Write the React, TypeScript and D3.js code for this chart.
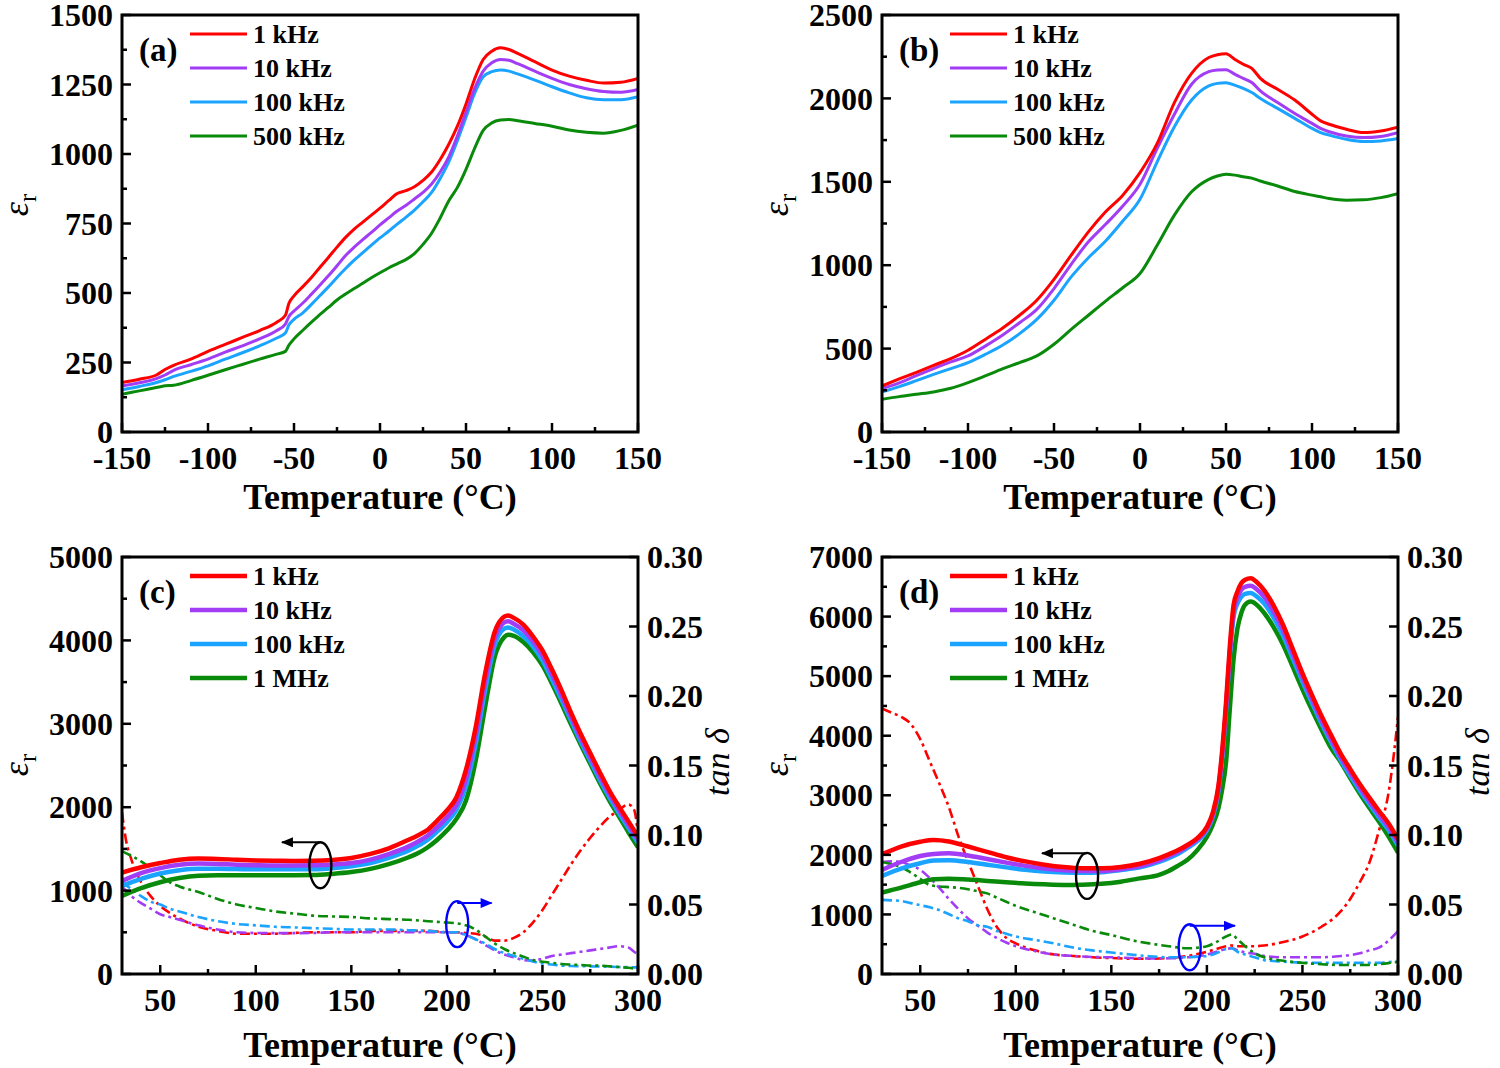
import React from "react";
import * as d3 from "d3";

const FONT = "'Liberation Serif', 'Times New Roman', Times, serif";
const RED = "#ff0000";
const PURPLE = "#a23cf5";
const BLUE = "#1aa3ff";
const GREEN = "#0a8a0a";

// ---------- panel (a) ----------
const tempA = [-150, -140, -130, -125, -120, -110, -100, -90, -80, -70, -60, -55, -53, -50, -45, -40, -35, -30, -25, -20, -15, -10, -5, 0, 5, 10, 15, 20, 25, 30, 35, 40, 45, 50, 55, 60, 65, 70, 75, 80, 90, 100, 110, 120, 130, 140, 150];
const epsA1k = [178, 190, 205, 225, 240, 262, 290, 315, 340, 365, 395, 420, 462, 490, 522, 555, 592, 628, 665, 700, 730, 755, 780, 805, 832, 858, 868, 882, 905, 935, 980, 1035, 1100, 1180, 1270, 1340, 1370, 1382, 1376, 1362, 1332, 1302, 1280, 1265, 1255, 1258, 1272];
const epsA10k = [165, 177, 192, 205, 222, 242, 262, 287, 310, 335, 365, 388, 415, 435, 463, 495, 528, 562, 598, 635, 665, 692, 718, 745, 770, 795, 815, 838, 862, 892, 935, 990, 1065, 1150, 1235, 1298, 1328, 1340, 1337, 1325, 1298, 1272, 1250, 1235, 1225, 1222, 1232];
const epsA100k = [152, 164, 178, 188, 200, 218, 238, 262, 285, 310, 338, 356, 385, 405, 428, 458, 490, 522, 556, 588, 618, 645, 672, 698, 722, 748, 772, 798, 828, 862, 912, 972, 1048, 1132, 1218, 1278, 1296, 1302, 1298, 1288, 1266, 1242, 1220, 1202, 1195, 1195, 1206];
const epsA500k = [136, 148, 160, 166, 168, 185, 204, 224, 243, 262, 280, 290, 312, 335, 365, 394, 422, 448, 475, 496, 516, 535, 555, 573, 590, 605, 620, 642, 675, 715, 770, 832, 880, 945, 1020, 1085, 1112, 1122, 1124, 1120, 1110, 1100, 1086, 1078, 1075, 1085, 1104];

// ---------- panel (b) ----------
const tempB = [-150, -140, -130, -120, -110, -100, -90, -80, -70, -60, -50, -40, -30, -20, -10, 0, 10, 20, 30, 40, 45, 50, 55, 60, 65, 70, 80, 90, 100, 105, 110, 120, 130, 140, 150];
const epsB1k = [276, 318, 358, 400, 440, 490, 555, 622, 700, 790, 915, 1060, 1200, 1320, 1420, 1555, 1730, 1975, 2150, 2245, 2262, 2268, 2235, 2205, 2180, 2120, 2055, 1990, 1905, 1865, 1845, 1815, 1795, 1805, 1828];
const epsB10k = [260, 295, 338, 380, 420, 456, 515, 580, 655, 735, 860, 1005, 1140, 1245, 1355, 1485, 1700, 1905, 2085, 2160, 2170, 2172, 2145, 2120, 2095, 2045, 1975, 1910, 1850, 1820, 1800, 1775, 1765, 1772, 1795];
const epsB100k = [240, 272, 308, 345, 380, 416, 465, 520, 590, 675, 790, 930, 1045, 1145, 1265, 1395, 1620, 1830, 1990, 2075, 2090, 2094, 2080, 2060, 2035, 2000, 1940, 1880, 1820, 1795, 1780, 1755, 1742, 1745, 1759];
const epsB500k = [196, 212, 226, 240, 262, 296, 336, 378, 416, 456, 526, 615, 700, 785, 865, 950, 1120, 1300, 1440, 1515, 1535, 1545, 1540, 1530, 1522, 1505, 1475, 1442, 1420, 1410, 1400, 1390, 1392, 1405, 1429];

// ---------- panel (c) ----------
const tempC = [30, 40, 50, 60, 70, 80, 90, 100, 110, 120, 130, 140, 150, 160, 170, 180, 185, 190, 195, 200, 205, 210, 215, 220, 225, 230, 232, 235, 240, 245, 250, 255, 260, 265, 270, 275, 280, 285, 290, 295, 300];
const epsC1k = [1216, 1280, 1330, 1370, 1385, 1380, 1370, 1362, 1358, 1356, 1358, 1368, 1392, 1440, 1510, 1610, 1665, 1730, 1840, 1960, 2120, 2450, 2950, 3600, 4100, 4285, 4300, 4270, 4190, 4050, 3880, 3650, 3400, 3130, 2880, 2650, 2420, 2200, 2010, 1830, 1650];
const epsC10k = [1116, 1210, 1270, 1310, 1325, 1320, 1310, 1305, 1302, 1302, 1304, 1312, 1330, 1372, 1440, 1530, 1590, 1660, 1760, 1880, 2030, 2340, 2850, 3500, 4020, 4215, 4230, 4200, 4120, 3990, 3820, 3590, 3340, 3080, 2830, 2600, 2370, 2160, 1970, 1790, 1610];
const epsC100k = [1056, 1140, 1205, 1245, 1262, 1262, 1258, 1256, 1255, 1255, 1256, 1268, 1292, 1330, 1395, 1480, 1540, 1610, 1710, 1820, 1970, 2250, 2750, 3400, 3940, 4140, 4155, 4130, 4050, 3930, 3760, 3530, 3290, 3040, 2790, 2560, 2330, 2120, 1930, 1750, 1570];
const epsC1M = [937, 1030, 1100, 1150, 1178, 1185, 1185, 1184, 1184, 1184, 1186, 1200, 1222, 1260, 1320, 1400, 1450, 1520, 1610, 1720, 1860, 2080, 2550, 3200, 3800, 4040, 4068, 4055, 3980, 3860, 3700, 3480, 3240, 2990, 2750, 2520, 2290, 2080, 1890, 1700, 1520];

const tanTempC = [30, 32, 35, 40, 45, 50, 55, 60, 70, 80, 90, 100, 110, 120, 130, 140, 150, 160, 170, 180, 190, 200, 205, 210, 215, 220, 225, 230, 235, 240, 245, 250, 255, 260, 265, 270, 275, 280, 285, 290, 295, 298, 300];
const tanC1k = [0.116, 0.097, 0.082, 0.066, 0.056, 0.049, 0.044, 0.040, 0.034, 0.031, 0.029, 0.029, 0.029, 0.0295, 0.030, 0.030, 0.030, 0.031, 0.031, 0.031, 0.031, 0.030, 0.030, 0.0295, 0.029, 0.027, 0.024, 0.024, 0.026, 0.030, 0.037, 0.046, 0.057, 0.068, 0.079, 0.089, 0.098, 0.106, 0.113, 0.118, 0.122, 0.118, 0.100];
const tanC10k = [0.063, 0.060, 0.056, 0.051, 0.047, 0.043, 0.041, 0.039, 0.035, 0.032, 0.030, 0.0295, 0.0294, 0.0294, 0.0295, 0.030, 0.030, 0.030, 0.030, 0.030, 0.030, 0.030, 0.030, 0.028, 0.025, 0.021, 0.017, 0.014, 0.012, 0.010, 0.0096, 0.011, 0.013, 0.014, 0.015, 0.016, 0.017, 0.018, 0.019, 0.020, 0.019, 0.016, 0.014];
const tanC100k = [0.066, 0.064, 0.061, 0.056, 0.052, 0.050, 0.047, 0.045, 0.041, 0.038, 0.036, 0.035, 0.034, 0.0335, 0.033, 0.0325, 0.032, 0.032, 0.032, 0.0315, 0.031, 0.030, 0.030, 0.028, 0.025, 0.022, 0.018, 0.015, 0.013, 0.011, 0.009, 0.0075, 0.0068, 0.006, 0.0058, 0.0056, 0.0055, 0.0054, 0.0052, 0.005, 0.0049, 0.0048, 0.0048];
const tanC1M = [0.0885, 0.087, 0.085, 0.081, 0.076, 0.071, 0.066, 0.063, 0.059, 0.054, 0.050, 0.0475, 0.045, 0.0435, 0.042, 0.0414, 0.041, 0.040, 0.0395, 0.039, 0.038, 0.037, 0.0365, 0.035, 0.032, 0.027, 0.022, 0.018, 0.015, 0.0125, 0.010, 0.0088, 0.008, 0.0072, 0.0068, 0.0065, 0.006, 0.006, 0.0055, 0.005, 0.0045, 0.004, 0.004];

// ---------- panel (d) ----------
const tempD = [30, 40, 50, 57, 65, 75, 85, 95, 105, 115, 125, 135, 145, 155, 165, 175, 180, 185, 190, 195, 200, 203, 206, 208, 210, 212, 214, 216, 218, 220, 223, 226, 230, 235, 240, 245, 250, 255, 260, 265, 270, 275, 280, 285, 290, 295, 300];
const epsD1k = [2010, 2140, 2220, 2250, 2225, 2140, 2050, 1960, 1890, 1835, 1795, 1775, 1775, 1795, 1850, 1945, 2010, 2080, 2170, 2280, 2470, 2700, 3150, 3750, 4550, 5500, 6200, 6420, 6560, 6620, 6645, 6580, 6440, 6180, 5850, 5450, 5050, 4680, 4330, 4010, 3700, 3440, 3190, 2960, 2740, 2530, 2261];
const epsD10k = [1748, 1880, 1980, 2015, 2025, 1990, 1930, 1870, 1815, 1770, 1740, 1728, 1730, 1760, 1810, 1905, 1975, 2050, 2150, 2260, 2440, 2660, 3100, 3680, 4460, 5400, 6080, 6320, 6450, 6500, 6518, 6460, 6330, 6080, 5760, 5370, 4980, 4610, 4260, 3940, 3640, 3380, 3130, 2900, 2680, 2470, 2200];
const epsD100k = [1647, 1770, 1860, 1905, 1910, 1880, 1835, 1790, 1748, 1720, 1705, 1700, 1710, 1745, 1790, 1880, 1945, 2020, 2120, 2230, 2410, 2630, 3060, 3640, 4420, 5350, 6000, 6220, 6330, 6380, 6394, 6340, 6220, 5980, 5670, 5290, 4910, 4550, 4200, 3890, 3590, 3330, 3080, 2850, 2630, 2420, 2150];
const epsD1M = [1368, 1450, 1540, 1590, 1600, 1585, 1563, 1540, 1519, 1505, 1496, 1500, 1515, 1550, 1605, 1665, 1730, 1820, 1920, 2080, 2300, 2500, 2780, 3100, 3550, 4450, 5300, 5800, 6060, 6200, 6253, 6200, 6060, 5820, 5520, 5150, 4780, 4430, 4100, 3790, 3560, 3290, 3030, 2790, 2560, 2310, 2038];

const tanTempD = [30, 35, 40, 45, 50, 55, 60, 65, 70, 75, 80, 85, 90, 95, 100, 110, 120, 130, 140, 150, 160, 170, 180, 190, 200, 205, 210, 213, 216, 220, 225, 230, 240, 250, 260, 270, 275, 280, 285, 290, 295, 298, 300];
const tanD1k = [0.191, 0.188, 0.185, 0.180, 0.169, 0.153, 0.137, 0.120, 0.099, 0.081, 0.064, 0.047, 0.034, 0.026, 0.022, 0.017, 0.014, 0.013, 0.012, 0.0115, 0.011, 0.011, 0.0115, 0.013, 0.016, 0.018, 0.020, 0.0205, 0.020, 0.020, 0.020, 0.0205, 0.023, 0.027, 0.034, 0.045, 0.054, 0.066, 0.080, 0.103, 0.130, 0.160, 0.185];
const tanD10k = [0.0806, 0.081, 0.0806, 0.078, 0.075, 0.069, 0.062, 0.054, 0.0467, 0.040, 0.035, 0.030, 0.026, 0.0227, 0.020, 0.0165, 0.014, 0.013, 0.0122, 0.012, 0.0115, 0.0112, 0.0113, 0.012, 0.014, 0.016, 0.018, 0.0185, 0.017, 0.0155, 0.0145, 0.013, 0.012, 0.012, 0.012, 0.013, 0.0136, 0.015, 0.017, 0.019, 0.024, 0.028, 0.031];
const tanD100k = [0.0533, 0.053, 0.0526, 0.051, 0.0495, 0.048, 0.046, 0.043, 0.040, 0.038, 0.035, 0.034, 0.031, 0.029, 0.027, 0.0245, 0.022, 0.019, 0.017, 0.0155, 0.014, 0.0128, 0.012, 0.012, 0.013, 0.015, 0.018, 0.0185, 0.016, 0.014, 0.012, 0.010, 0.0089, 0.0082, 0.008, 0.008, 0.008, 0.008, 0.008, 0.008, 0.0085, 0.009, 0.0096];
const tanD1M = [0.0806, 0.079, 0.077, 0.073, 0.0685, 0.064, 0.063, 0.0625, 0.062, 0.061, 0.0595, 0.058, 0.055, 0.052, 0.049, 0.0445, 0.040, 0.0355, 0.031, 0.028, 0.0245, 0.022, 0.020, 0.0185, 0.020, 0.023, 0.027, 0.0285, 0.025, 0.020, 0.015, 0.012, 0.0095, 0.008, 0.007, 0.0065, 0.0065, 0.0065, 0.0065, 0.007, 0.0078, 0.0084, 0.0085];

const legendAB = ["1 kHz", "10 kHz", "100 kHz", "500 kHz"];
const legendCD = ["1 kHz", "10 kHz", "100 kHz", "1 MHz"];
const colors = [RED, PURPLE, BLUE, GREEN];

// annotation marks: ellipse centre [temperature, value], arrow tip [temperature, level]
const markC = { epsAt: [133.8, 1304], epsArrow: [113.7, 1579], tanAt: [205.4, 0.0359], tanArrow: [223.4, 0.051] };
const markD = { epsAt: [137.3, 1647], epsArrow: [113.7, 2027], tanAt: [191, 0.0192], tanArrow: [214.7, 0.0347] };

type PanelCfg = {
  id: string;
  left: number;
  top: number;
  xDomain: [number, number];
  yDomain: [number, number];
  yMajor: number;
  yMinor: number;
  temps: number[];
  eps: number[][];
  tanTemps?: number[];
  tan?: number[][];
  legend: string[];
  label: string;
  lineW: number;
  epsLabelY: number;
  mark?: typeof markC;
};

const PW = 516;
const PH = 417;

const panels: PanelCfg[] = [
  { id: "a", left: 122, top: 15, xDomain: [-150, 150], yDomain: [0, 1500], yMajor: 250, yMinor: 125, temps: tempA, eps: [epsA1k, epsA10k, epsA100k, epsA500k], legend: legendAB, label: "(a)", lineW: 3, epsLabelY: 205 },
  { id: "b", left: 882, top: 15, xDomain: [-150, 150], yDomain: [0, 2500], yMajor: 500, yMinor: 250, temps: tempB, eps: [epsB1k, epsB10k, epsB100k, epsB500k], legend: legendAB, label: "(b)", lineW: 3, epsLabelY: 205 },
  { id: "c", left: 122, top: 557, xDomain: [30, 300], yDomain: [0, 5000], yMajor: 1000, yMinor: 500, temps: tempC, eps: [epsC1k, epsC10k, epsC100k, epsC1M], tanTemps: tanTempC, tan: [tanC1k, tanC10k, tanC100k, tanC1M], legend: legendCD, label: "(c)", lineW: 4.5, epsLabelY: 765, mark: markC },
  { id: "d", left: 882, top: 557, xDomain: [30, 300], yDomain: [0, 7000], yMajor: 1000, yMinor: 500, temps: tempD, eps: [epsD1k, epsD10k, epsD100k, epsD1M], tanTemps: tanTempD, tan: [tanD1k, tanD10k, tanD100k, tanD1M], legend: legendCD, label: "(d)", lineW: 4.5, epsLabelY: 765, mark: markD },
];

const Panel: React.FC<{ cfg: PanelCfg }> = ({ cfg }) => {
  const right = cfg.left + PW;
  const bottom = cfg.top + PH;
  const x = d3.scaleLinear().domain(cfg.xDomain).range([cfg.left, right]);
  const y = d3.scaleLinear().domain(cfg.yDomain).range([bottom, cfg.top]);
  const yT = d3.scaleLinear().domain([0, 0.3]).range([bottom, cfg.top]);

  const [x0, x1] = cfg.xDomain;
  const xMajor = d3.range(Math.ceil(x0 / 50) * 50, x1 + 0.01, 50);
  const xMinor = d3.range(Math.ceil((x0 - 25) / 50) * 50 + 25, x1, 50).filter((v) => v > x0);
  const yMajorT = d3.range(cfg.yDomain[0], cfg.yDomain[1] + 0.01, cfg.yMajor);
  const yMinorT = d3.range(cfg.yDomain[0] + cfg.yMinor, cfg.yDomain[1], cfg.yMajor);
  const tanTicks = d3.range(0, 0.3001, 0.05);

  const epsLine = d3
    .line<[number, number]>()
    .x((d) => x(d[0]))
    .y((d) => y(d[1]))
    .curve(d3.curveMonotoneX);
  const tanLine = d3
    .line<[number, number]>()
    .x((d) => x(d[0]))
    .y((d) => yT(d[1]))
    .curve(d3.curveMonotoneX);

  const clipId = `clip-${cfg.id}`;
  const hasTan = !!cfg.tan;
  const fmtTan = d3.format(".2f");

  return (
    <g>
      <defs>
        <clipPath id={clipId}>
          <rect x={cfg.left} y={cfg.top} width={PW} height={PH} />
        </clipPath>
      </defs>

      <g clipPath={`url(#${clipId})`}>
        {cfg.tan &&
          cfg.tan.map((vals, i) => (
            <path
              key={`t${i}`}
              d={tanLine(vals.map((v, j) => [cfg.tanTemps![j], v] as [number, number])) || ""}
              fill="none"
              stroke={colors[i]}
              strokeWidth={2.6}
              strokeDasharray="10 4 3 4"
            />
          ))}
        {[...cfg.eps].reverse().map((vals, k) => {
          const i = cfg.eps.length - 1 - k;
          return (
            <path
              key={`e${i}`}
              d={epsLine(vals.map((v, j) => [cfg.temps[j], v] as [number, number])) || ""}
              fill="none"
              stroke={colors[i]}
              strokeWidth={cfg.lineW}
              strokeLinejoin="round"
            />
          );
        })}
      </g>

      {cfg.mark && (
        <g fill="none" strokeWidth={2.4}>
          <ellipse cx={x(cfg.mark.epsAt[0])} cy={y(cfg.mark.epsAt[1])} rx={11} ry={23} stroke="#000" />
          <line
            x1={x(cfg.mark.epsAt[0])}
            x2={x(cfg.mark.epsArrow[0])}
            y1={y(cfg.mark.epsArrow[1])}
            y2={y(cfg.mark.epsArrow[1])}
            stroke="#000"
            strokeWidth={2}
            markerEnd="url(#arrow-k)"
          />
          <ellipse cx={x(cfg.mark.tanAt[0])} cy={yT(cfg.mark.tanAt[1])} rx={11} ry={23} stroke="#0000ff" />
          <line
            x1={x(cfg.mark.tanAt[0])}
            x2={x(cfg.mark.tanArrow[0])}
            y1={yT(cfg.mark.tanArrow[1])}
            y2={yT(cfg.mark.tanArrow[1])}
            stroke="#0000ff"
            strokeWidth={2}
            markerEnd="url(#arrow-b)"
          />
        </g>
      )}

      {/* frame */}
      <rect x={cfg.left} y={cfg.top} width={PW} height={PH} fill="none" stroke="#000" strokeWidth={3} />

      {/* ticks */}
      <g stroke="#000" strokeWidth={2.5}>
        {xMajor.map((v) => (
          <line key={`xM${v}`} x1={x(v)} x2={x(v)} y1={bottom} y2={bottom - 9} />
        ))}
        {xMinor.map((v) => (
          <line key={`xm${v}`} x1={x(v)} x2={x(v)} y1={bottom} y2={bottom - 5} />
        ))}
        {yMajorT.map((v) => (
          <line key={`yM${v}`} x1={cfg.left} x2={cfg.left + 9} y1={y(v)} y2={y(v)} />
        ))}
        {yMinorT.map((v) => (
          <line key={`ym${v}`} x1={cfg.left} x2={cfg.left + 5} y1={y(v)} y2={y(v)} />
        ))}
        {hasTan &&
          tanTicks.map((v) => (
            <line key={`tM${v}`} x1={right} x2={right - 9} y1={yT(v)} y2={yT(v)} />
          ))}
      </g>

      {/* tick labels */}
      <g fontFamily={FONT} fontWeight="bold" fontSize={32} fill="#000">
        {xMajor.map((v) => (
          <text key={`xl${v}`} x={x(v)} y={bottom + 37} textAnchor="middle">
            {String(v)}
          </text>
        ))}
        {yMajorT.map((v) => (
          <text key={`yl${v}`} x={cfg.left - 9} y={y(v)} dy="0.35em" textAnchor="end">
            {String(v)}
          </text>
        ))}
        {hasTan &&
          tanTicks.map((v) => (
            <text key={`tl${v}`} x={right + 9} y={yT(v)} dy="0.35em" textAnchor="start">
              {fmtTan(v)}
            </text>
          ))}
      </g>

      {/* axis titles */}
      <text
        x={(cfg.left + right) / 2}
        y={bottom + (hasTan ? 83 : 77)}
        textAnchor="middle"
        fontFamily={FONT}
        fontWeight="bold"
        fontSize={36}
      >
        Temperature (°C)
      </text>
      <text
        transform={`translate(${cfg.left - 94},${cfg.epsLabelY}) rotate(-90)`}
        textAnchor="middle"
        fontFamily={FONT}
        fontSize={36}
        fontStyle="italic"
      >
        ε
        <tspan fontStyle="normal" fontSize={25} dy={8}>
          r
        </tspan>
      </text>
      {hasTan && (
        <text
          transform={`translate(${right + 91},${762}) rotate(-90)`}
          textAnchor="middle"
          fontFamily={FONT}
          fontSize={34}
          fontStyle="italic"
        >
          tan δ
        </text>
      )}

      {/* panel label */}
      <text x={cfg.left + 17} y={cfg.top + 46} fontFamily={FONT} fontWeight="bold" fontSize={33}>
        {cfg.label}
      </text>

      {/* legend */}
      <g fontFamily={FONT} fontWeight="bold" fontSize={26}>
        {cfg.legend.map((name, i) => {
          const ly = cfg.top + 19 + i * 34;
          return (
            <g key={name}>
              <line x1={cfg.left + 68} x2={cfg.left + 125} y1={ly} y2={ly} stroke={colors[i]} strokeWidth={cfg.lineW} />
              <text x={cfg.left + 131} y={ly} dy="0.35em">
                {name}
              </text>
            </g>
          );
        })}
      </g>
    </g>
  );
};

export default function App() {
  return (
    <svg
      width={1500}
      height={1068}
      viewBox="0 0 1500 1068"
      style={{ position: "absolute", left: 0, top: 0, background: "#fff" }}
    >
      <defs>
        <marker id="arrow-k" viewBox="0 0 12 10" refX={11} refY={5} markerWidth={13} markerHeight={10} markerUnits="userSpaceOnUse" orient="auto">
          <path d="M0,0 L12,5 L0,10 Z" fill="#000" />
        </marker>
        <marker id="arrow-b" viewBox="0 0 12 10" refX={11} refY={5} markerWidth={13} markerHeight={10} markerUnits="userSpaceOnUse" orient="auto">
          <path d="M0,0 L12,5 L0,10 Z" fill="#0000ff" />
        </marker>
      </defs>
      <rect width={1500} height={1068} fill="#fff" />
      {panels.map((p) => (
        <Panel key={p.id} cfg={p} />
      ))}
    </svg>
  );
}
